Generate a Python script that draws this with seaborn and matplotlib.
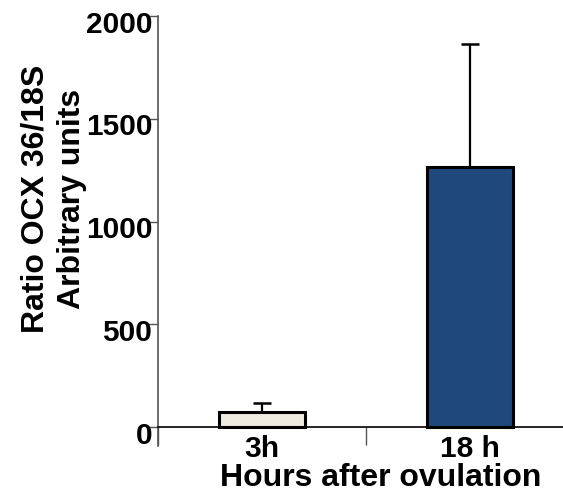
import numpy as np
import pandas as pd
import seaborn as sns
import matplotlib.pyplot as plt
import matplotlib.transforms as mtransforms
from matplotlib.ticker import FixedLocator

sns.set_style("ticks")
plt.rcParams["font.family"] = ["Liberation Sans", "DejaVu Sans"]
plt.rcParams["font.weight"] = "bold"
plt.rcParams["text.color"] = "black"
plt.rcParams["axes.labelcolor"] = "black"

# data
hours = ["3h", "18 h"]
ratio = [72, 1267]
err_up = [43, 595]
bar_colors = ["#EEECE1", "#1F497D"]

df = pd.DataFrame({"Hours": hours, "Ratio": ratio})

fig = plt.figure(figsize=(5.63, 4.96), dpi=100)
ax = fig.add_axes([0.2806, 0.1008, 0.7194, 0.8669])

sns.barplot(data=df, x="Hours", y="Ratio", hue="Hours", palette=bar_colors, saturation=1,
            width=0.41, edgecolor="black", linewidth=2.2, legend=False, ax=ax)
ax.errorbar(range(len(hours)), ratio, yerr=[np.zeros(len(err_up)), err_up],
            fmt="none", ecolor="black", elinewidth=1.6, capsize=6.8, capthick=1.8, zorder=1)

ax.set_xlim(-0.5, 1.447)
ax.set_ylim(-92, 2000)
ax.set_yticks([0, 500, 1000, 1500, 2000])
ax.spines["top"].set_visible(False)
ax.spines["right"].set_visible(False)
ax.spines["bottom"].set_position(("data", 0))
ax.spines["bottom"].set_color("black")
ax.spines["left"].set_color("#555555")
ax.spines["left"].set_linewidth(1.2)
ax.spines["bottom"].set_linewidth(1.2)

ax.xaxis.set_minor_locator(FixedLocator([-0.5, 0.5, 1.5]))
ax.tick_params(axis="x", which="major", length=0, pad=6, labelsize=21.5, labelcolor="black")
ax.tick_params(axis="x", which="minor", length=13, width=1.0, color="#555555", direction="out")
ax.tick_params(axis="y", length=7, width=1.0, pad=-3, labelsize=21.5, color="#555555", labelcolor="black")
shift = mtransforms.ScaledTranslation(0, -4 / 72, fig.dpi_scale_trans)
for lab in ax.get_yticklabels():
    lab.set_fontweight("bold")
    lab.set_transform(lab.get_transform() + shift)
for lab in ax.get_xticklabels():
    lab.set_fontweight("bold")

ax.set_xlabel("Hours after ovulation", fontsize=23, fontweight="bold")
ax.xaxis.set_label_coords(0.549, -0.040)
ax.set_ylabel("Ratio OCX 36/18S\nArbitrary units", fontsize=23, fontweight="bold",
              linespacing=1.28, va="center")
ax.yaxis.set_label_coords(-0.257, 0.574)

fig.savefig("out.png", dpi=100)
